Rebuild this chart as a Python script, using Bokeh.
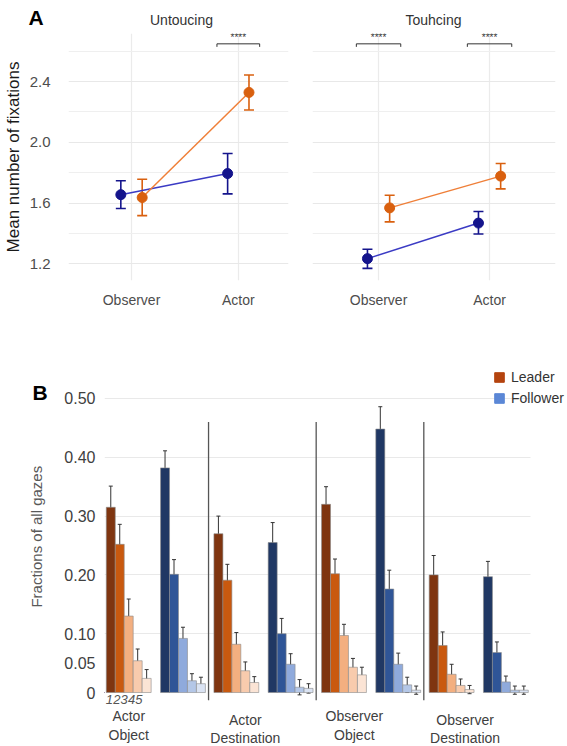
import math
from bokeh.plotting import figure
from bokeh.models import (ColumnDataSource, FixedTicker, Range1d, Whisker, TeeHead,
                          Legend, LegendItem, PrintfTickFormatter)
from bokeh.layouts import column, row
from bokeh.embed import file_html
from bokeh.resources import INLINE
from bokeh.core.properties import value

# ---------------- Panel A data ----------------
conditions = ["Observer", "Actor"]
panel_titles = ["Untoucing", "Touhcing"]

untouch_blue_mean = [1.655, 1.794]
untouch_blue_lo = [1.564, 1.660]
untouch_blue_hi = [1.747, 1.926]
untouch_orange_mean = [1.636, 2.328]
untouch_orange_lo = [1.517, 2.212]
untouch_orange_hi = [1.757, 2.443]

touch_blue_mean = [1.234, 1.468]
touch_blue_lo = [1.170, 1.396]
touch_blue_hi = [1.296, 1.544]
touch_orange_mean = [1.568, 1.777]
touch_orange_lo = [1.476, 1.693]
touch_orange_hi = [1.651, 1.860]

untouch_sig = ["", "****"]
touch_sig = ["****", "****"]

a_ticks = [1.2, 1.6, 2.0, 2.4]
a_minor = [1.4, 1.8, 2.2, 2.6]

# ---------------- Panel B data ----------------
groups = ["Actor\nObject", "Actor\nDestination", "Observer\nObject", "Observer\nDestination"]
ranks = ["1", "2", "3", "4", "5"]
leader_means = [
    [0.315, 0.252, 0.130, 0.054, 0.024],
    [0.270, 0.191, 0.082, 0.037, 0.017],
    [0.320, 0.202, 0.097, 0.043, 0.030],
    [0.200, 0.080, 0.031, 0.012, 0.005],
]
leader_errs = [
    [0.036, 0.034, 0.029, 0.020, 0.015],
    [0.030, 0.027, 0.020, 0.015, 0.010],
    [0.030, 0.025, 0.019, 0.015, 0.013],
    [0.033, 0.023, 0.017, 0.011, 0.007],
]
follower_means = [
    [0.382, 0.201, 0.092, 0.020, 0.015],
    [0.255, 0.100, 0.048, 0.009, 0.007],
    [0.448, 0.176, 0.048, 0.013, 0.004],
    [0.197, 0.068, 0.018, 0.004, 0.004],
]
follower_errs = [
    [0.029, 0.025, 0.019, 0.012, 0.011],
    [0.034, 0.026, 0.018, 0.013, 0.008],
    [0.038, 0.032, 0.019, 0.013, 0.007],
    [0.026, 0.018, 0.010, 0.007, 0.007],
]
b_ticks = [0, 0.05, 0.10, 0.20, 0.30, 0.40, 0.50]
b_tick_labels = ["0", "0.05", "0.10", "0.20", "0.30", "0.40", "0.50"]
series = ["Leader", "Follower"]

# ---------------- styles ----------------
FONT = "Liberation Sans"
BLUE_PT, BLUE_LN = "#14148C", "#3B3BC4"
ORANGE_PT, ORANGE_LN = "#D9600F", "#EF7F38"
leader_colors = ["#7F3510", "#C9590F", "#F3AF80", "#F8CBAD", "#FBE4D5"]
follower_colors = ["#203864", "#2F5597", "#8FAADC", "#B4C7E7", "#DAE3F3"]
legend_colors = ["#B4440F", "#5B87D6"]
DODGE = 0.1


def bare(p):
    p.outline_line_color = None
    p.xaxis.visible = False
    p.yaxis.visible = False
    p.xgrid.visible = False
    p.ygrid.visible = False
    return p


# ---------------- header of panel A ----------------
header = bare(figure(width=567, height=33, x_range=Range1d(0, 567), y_range=Range1d(0, 33),
                     output_backend="svg", toolbar_location=None, min_border=0))
header.text(x=[28], y=[16], text=["A"], text_align="left", text_baseline="middle",
            text_font=value(FONT), text_font_size="21px", text_font_style="bold",
            text_color="#000000")
header.text(x=[181, 433], y=[14, 14], text=panel_titles, text_align="center",
            text_baseline="middle", text_font=value(FONT), text_font_size="14px",
            text_color="#333333")


def make_panel_a(xr, width, bl, br, show_y, data, sig):
    p = figure(width=width, height=277, x_range=xr, y_range=Range1d(1.09, 2.716),
               output_backend="svg", toolbar_location=None,
               min_border_left=bl, min_border_right=br, min_border_top=0,
               min_border_bottom=25)
    p.outline_line_color = None
    xt = [1, 2]
    p.xaxis.ticker = FixedTicker(ticks=xt)
    p.xaxis.major_label_overrides = {i + 1: c for i, c in enumerate(conditions)}
    p.yaxis.ticker = FixedTicker(ticks=a_ticks, minor_ticks=a_minor)
    p.yaxis.formatter = PrintfTickFormatter(format="%.1f")
    p.xgrid.ticker = FixedTicker(ticks=xt)
    p.ygrid.ticker = FixedTicker(ticks=a_ticks, minor_ticks=a_minor)
    for ax in (p.xaxis[0], p.yaxis[0]):
        ax.axis_line_color = None
        ax.major_tick_line_color = None
        ax.minor_tick_line_color = None
        ax.major_label_text_font = FONT
        ax.major_label_text_font_size = "14px"
        ax.major_label_text_color = "#4D4D4D"
    p.xaxis.major_label_standoff = 5
    p.yaxis.major_label_standoff = 12
    p.yaxis.major_label_text_font_size = "15px"
    if show_y:
        p.yaxis.axis_label = "Mean number of fixations"
        p.yaxis.axis_label_text_font = FONT
        p.yaxis.axis_label_text_font_size = "17px"
        p.yaxis.axis_label_text_font_style = "normal"
        p.yaxis.axis_label_text_color = "#1A1A1A"
        p.yaxis.axis_label_standoff = 4
    else:
        p.yaxis.visible = False
    p.xgrid.grid_line_color = "#EBEBEB"
    p.xgrid.grid_line_width = 1.2
    p.ygrid.grid_line_color = "#E8E8E8"
    p.ygrid.grid_line_width = 1.2
    p.ygrid.minor_grid_line_color = "#EFEFEF"
    p.ygrid.minor_grid_line_width = 1.0

    base = [i + 1 for i in range(len(conditions))]
    for (mean, lo, hi, pt, ln, off) in data:
        xs = [b + off for b in base]
        src = ColumnDataSource(dict(x=xs, y=mean, lo=lo, hi=hi))
        p.line("x", "y", source=src, line_color=ln, line_width=1.5)
        w = Whisker(source=src, base="x", upper="hi", lower="lo", line_color=pt,
                    line_width=1.6,
                    upper_head=TeeHead(size=10, line_color=pt, line_width=1.6),
                    lower_head=TeeHead(size=10, line_color=pt, line_width=1.6))
        p.add_layout(w)
        p.scatter("x", "y", source=src, size=10, color=pt)

    # significance brackets
    yb = 2.648
    for i, s in enumerate(sig):
        if not s:
            continue
        b = base[i]
        p.segment(x0=[b - 0.2, b - 0.2, b + 0.2], y0=[yb, yb, yb],
                  x1=[b + 0.2, b - 0.2, b + 0.2], y1=[yb, yb - 0.02, yb - 0.02],
                  line_color="#333333", line_width=1)
        p.text(x=[b], y=[yb + 0.008], text=[s], text_align="center",
               text_baseline="bottom", text_font=value(FONT),
               text_font_size="10px", text_color="#333333")
    return p


pA1 = make_panel_a(
    Range1d(0.41, 2.47), 290, 60, 2, True,
    [(untouch_blue_mean, untouch_blue_lo, untouch_blue_hi, BLUE_PT, BLUE_LN, -DODGE),
     (untouch_orange_mean, untouch_orange_lo, untouch_orange_hi, ORANGE_PT, ORANGE_LN, DODGE)],
    untouch_sig)
pA2 = make_panel_a(
    Range1d(0.405, 2.594), 277, 22, 12, False,
    [(touch_blue_mean, touch_blue_lo, touch_blue_hi, BLUE_PT, BLUE_LN, -DODGE),
     (touch_orange_mean, touch_orange_lo, touch_orange_hi, ORANGE_PT, ORANGE_LN, DODGE)],
    touch_sig)

# ---------------- Panel B ----------------
PERIOD = 12.0
FOLLOW_OFF = 6.05
b_yrange = Range1d(-0.0918, 0.5561)
pB = figure(width=507, height=436, x_range=Range1d(-0.2, 51.42),
            y_range=b_yrange, output_backend="svg",
            toolbar_location=None, min_border_left=44, min_border_right=0,
            min_border_top=55, min_border_bottom=0)
pB.outline_line_color = None
pB.xaxis.visible = False
pB.xgrid.visible = False
pB.yaxis.ticker = FixedTicker(ticks=b_ticks)
pB.yaxis.major_label_overrides = {t: l for t, l in zip(b_ticks, b_tick_labels)}
pB.yaxis.axis_line_color = None
pB.yaxis.major_tick_line_color = None
pB.yaxis.minor_tick_line_color = None
pB.yaxis.major_label_text_font = FONT
pB.yaxis.major_label_text_font_size = "16px"
pB.yaxis.major_label_text_color = "#404040"
pB.yaxis.major_label_standoff = 3
pB.ygrid.ticker = FixedTicker(ticks=[t for t in b_ticks if t >= 0.1])
pB.ygrid.grid_line_color = "#E9E9E9"
pB.ygrid.grid_line_width = 1
pB.ygrid.cross_bounds = (-0.2, 47.3)

xs, tops, colors, lo, hi = [], [], [], [], []
for g in range(len(groups)):
    for s, (means, errs, cols, off) in enumerate(
            [(leader_means, leader_errs, leader_colors, 0.0),
             (follower_means, follower_errs, follower_colors, FOLLOW_OFF)]):
        for r in range(len(ranks)):
            x = g * PERIOD + off + r + 0.5
            xs.append(x)
            tops.append(means[g][r])
            colors.append(cols[r])
            lo.append(means[g][r] - errs[g][r])
            hi.append(means[g][r] + errs[g][r])
bsrc = ColumnDataSource(dict(x=xs, top=tops, color=colors, lo=lo, hi=hi))
pB.vbar(x="x", top="top", bottom=0, width=1.0, source=bsrc, fill_color="color",
        line_color="#8A8A8A", line_width=0.6)
pB.add_layout(Whisker(source=bsrc, base="x", upper="hi", lower="lo",
                      line_color="#333333", line_width=1,
                      upper_head=TeeHead(size=4, line_color="#333333", line_width=1),
                      lower_head=TeeHead(size=4, line_color="#333333", line_width=1)))

# dividers between groups
div_x = [g * PERIOD - 0.6 for g in range(1, len(groups))]
pB.segment(x0=div_x, y0=[-0.013] * len(div_x), x1=div_x, y1=[0.46] * len(div_x),
           line_color="#555555", line_width=1.3)

# rank numbers under first group
pB.text(x=[0.35 + i * 0.82 for i in range(len(ranks))], y=[-0.012] * len(ranks),
        text=ranks, text_align="center", text_baseline="middle",
        text_font=value(FONT), text_font_size="13px", text_font_style="italic",
        text_color="#555555")

# group labels
label_offsets = [2.5, 3.5, 3.65, 4.0]
label_y = [-0.056, -0.062, -0.056, -0.062]
pB.text(x=[g * PERIOD + label_offsets[g] for g in range(len(groups))], y=label_y,
        text=groups, text_align="center", text_baseline="middle",
        text_font=value(FONT), text_font_size="14px", text_color="#404040",
        text_line_height=1.15)

# legend: swatch renderers hold one off-screen key each (never inside the view)
key_src = ColumnDataSource(dict(x=[-1000.0], top=[0.0]))
r_lead = pB.vbar(x="x", top="top", width=1, source=key_src,
                 fill_color=legend_colors[0], line_color=legend_colors[0])
r_foll = pB.vbar(x="x", top="top", width=1, source=key_src,
                 fill_color=legend_colors[1], line_color=legend_colors[1])
legend = Legend(items=[LegendItem(label=series[0], renderers=[r_lead]),
                       LegendItem(label=series[1], renderers=[r_foll])],
                location=(389, 338), padding=0, spacing=1, glyph_width=12,
                glyph_height=12, label_standoff=6, label_height=20,
                label_text_font=FONT, label_text_font_size="14px",
                label_text_color="#333333", background_fill_alpha=0,
                border_line_color=None)
pB.add_layout(legend)

# left strip of panel B: panel letter and y-axis title
stripB = bare(figure(width=60, height=436, x_range=Range1d(0, 60), y_range=b_yrange,
                     output_backend="svg", toolbar_location=None, min_border_left=0,
                     min_border_right=0, min_border_top=55, min_border_bottom=0))
stripB.text(x=[32], y=[0.5094], text=["B"], text_align="left",
            text_baseline="middle", text_font=value(FONT), text_font_size="21px",
            text_font_style="bold", text_color="#000000")
stripB.text(x=[36], y=[0.265], text=["Fractions of all gazes"], angle=math.pi / 2,
            text_align="center", text_baseline="middle", text_font=value(FONT),
            text_font_size="15px", text_color="#595959")

layout = column(header, row(pA1, pA2), row(stripB, pB))
open("out.html", "w").write(file_html(layout, INLINE))
